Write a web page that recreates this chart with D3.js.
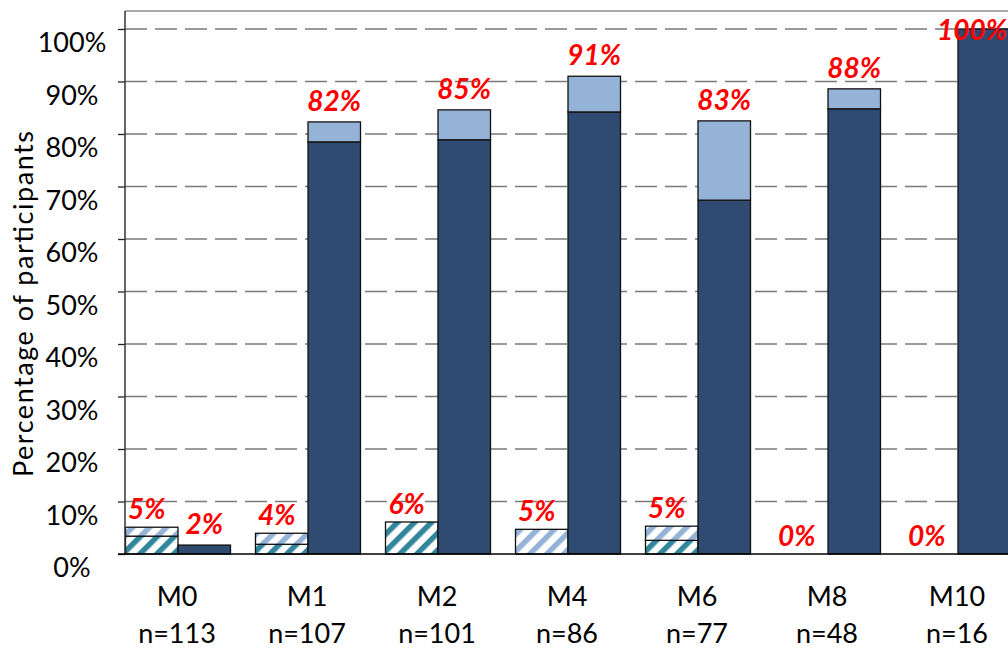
<!DOCTYPE html>
<html>
<head>
<meta charset="utf-8">
<script src="https://cdn.jsdelivr.net/npm/d3@7/dist/d3.min.js"></script>
<style>
  html, body { margin: 0; padding: 0; background: #fff; overflow: hidden; }
  svg { display: block; font-family: Lato, "Open Sans", sans-serif; }
</style>
</head>
<body>
<svg id="chart" width="1008" height="649"></svg>
<script>
// ---- data ----
const categories = ["M0", "M1", "M2", "M4", "M6", "M8", "M10"];
const sampleSizes = ["n=113", "n=107", "n=101", "n=86", "n=77", "n=48", "n=16"];
// hatched (left) bar: two stacked segments
const hatchTeal  = [0.034, 0.0185, 0.061, 0.000, 0.026, 0, 0];
const hatchLight = [0.017, 0.021,  0.000, 0.047, 0.027, 0, 0];
const hatchLabels = ["5%", "4%", "6%", "5%", "5%", "0%", "0%"];
// solid (right) bar: two stacked segments
const solidDark  = [0.017, 0.785, 0.789, 0.842, 0.674, 0.848, 1.000];
const solidLight = [0.000, 0.038, 0.057, 0.068, 0.151, 0.038, 0.000];
const solidLabels = ["2%", "82%", "85%", "91%", "83%", "88%", "100%"];
const yTicks = [0, 0.1, 0.2, 0.3, 0.4, 0.5, 0.6, 0.7, 0.8, 0.9, 1.0];

// ---- layout ----
const W = 1008, H = 649;
const plotLeft = 125, plotTop = 11, plotRight = 1008, baseY = 554, topY = 29;
const svg = d3.select("#chart");

const x = d3.scaleBand().domain(categories).range([113, 113 + 130 * categories.length]).padding(0);
const sub = d3.scaleBand().domain(["hatch", "solid"]).range([12.5, 117.5]).padding(0);
const y = d3.scaleLinear().domain([0, 1]).range([baseY, topY]);

const C_DARK = "#2F4B72", C_LIGHT = "#95B3D7", C_TEAL = "#31869B";

// hatch patterns
const defs = svg.append("defs");
function hatch(id, color) {
  const p = defs.append("pattern").attr("id", id).attr("patternUnits", "userSpaceOnUse")
    .attr("width", 12).attr("height", 12).attr("patternTransform", "rotate(45)");
  p.append("rect").attr("width", 12).attr("height", 12).attr("fill", "#fff");
  p.append("rect").attr("x", 0).attr("width", 5.5).attr("height", 12).attr("fill", color);
}
hatch("hTeal", C_TEAL);
hatch("hLight", C_LIGHT);

// gridlines
svg.append("g").selectAll("line").data(yTicks.filter(d => d > 0)).join("line")
  .attr("x1", plotLeft).attr("x2", plotRight)
  .attr("y1", d => y(d)).attr("y2", d => y(d))
  .attr("stroke", "#7a7a7a").attr("stroke-width", 1.5).attr("stroke-dasharray", "22,8");

// top frame
svg.append("line").attr("x1", plotLeft).attr("x2", plotRight).attr("y1", plotTop).attr("y2", plotTop)
  .attr("stroke", "#8c8c8c").attr("stroke-width", 1.5);

// bars
const rows = categories.map((c, i) => ({
  c, i,
  segs: [
    { key: "hatch", y0: 0, y1: hatchTeal[i], fill: "url(#hTeal)" },
    { key: "hatch", y0: hatchTeal[i], y1: hatchTeal[i] + hatchLight[i], fill: "url(#hLight)" },
    { key: "solid", y0: 0, y1: solidDark[i], fill: C_DARK },
    { key: "solid", y0: solidDark[i], y1: solidDark[i] + solidLight[i], fill: C_LIGHT }
  ].filter(s => s.y1 - s.y0 > 0)
}));

const g = svg.append("g").selectAll("g").data(rows).join("g")
  .attr("transform", d => `translate(${x(d.c)},0)`);
g.selectAll("rect").data(d => d.segs).join("rect")
  .attr("x", s => sub(s.key))
  .attr("width", sub.bandwidth())
  .attr("y", s => y(s.y1))
  .attr("height", s => y(s.y0) - y(s.y1))
  .attr("fill", s => s.fill)
  .attr("stroke", "#111").attr("stroke-width", 1.3);

// y axis
const yAxis = svg.append("g").attr("transform", `translate(${plotLeft},0)`)
  .call(d3.axisLeft(y).tickValues(yTicks).tickFormat(d3.format(".0%")).tickSize(7).tickPadding(0));
yAxis.select(".domain").remove();
yAxis.selectAll(".tick line").attr("stroke", "#222").attr("stroke-width", 1.3);
yAxis.selectAll(".tick text")
  .attr("x", -53).attr("dy", "0.85em").attr("text-anchor", "middle")
  .attr("font-size", 27).attr("font-family", "Lato, sans-serif").attr("fill", "#000");
svg.append("line").attr("x1", plotLeft).attr("x2", plotLeft).attr("y1", plotTop).attr("y2", baseY)
  .attr("stroke", "#333").attr("stroke-width", 1.5);
svg.append("line").attr("x1", plotLeft - 7).attr("x2", plotRight).attr("y1", baseY).attr("y2", baseY)
  .attr("stroke", "#000").attr("stroke-width", 1.5);

// y title
svg.append("text").attr("transform", `translate(22,304) rotate(-90)`)
  .attr("text-anchor", "middle").attr("dominant-baseline", "central")
  .attr("font-size", 27).attr("textLength", 346).attr("lengthAdjust", "spacing")
  .text("Percentage of participants");

// x labels
const xl = svg.append("g").selectAll("g").data(categories).join("g")
  .attr("transform", d => `translate(${x(d) + x.bandwidth() / 2 - 1},0)`);
xl.append("text").attr("y", 606).attr("text-anchor", "middle").attr("font-size", 27).text(d => d);
xl.append("text").attr("y", 643).attr("text-anchor", "middle").attr("font-size", 27)
  .text((d, i) => sampleSizes[i]);

// data labels
const lab = svg.append("g").attr("font-size", 28).attr("font-weight", "bold")
  .attr("font-style", "italic").attr("fill", "#FF0000").attr("text-anchor", "middle");
lab.selectAll("text.h").data(categories).join("text").attr("class", "h")
  .attr("x", (d) => x(d) + sub("hatch") + sub.bandwidth() / 2 - 5)
  .attr("y", (d, i) => Math.max(y(hatchTeal[i] + hatchLight[i]) - 8, 40))
  .text((d, i) => hatchLabels[i]);
lab.selectAll("text.s").data(categories).join("text").attr("class", "s")
  .attr("x", (d) => x(d) + sub("solid") + sub.bandwidth() / 2)
  .attr("y", (d, i) => Math.max(y(solidDark[i] + solidLight[i]) - 11, 40))
  .text((d, i) => solidLabels[i]);
// keep labels inside the canvas on the right edge
lab.selectAll("text").each(function () {
  const bb = this.getBBox();
  if (bb.x + bb.width > W - 1) {
    d3.select(this).attr("x", +d3.select(this).attr("x") - (bb.x + bb.width - (W - 1)));
  }
});
</script>
</body>
</html>
